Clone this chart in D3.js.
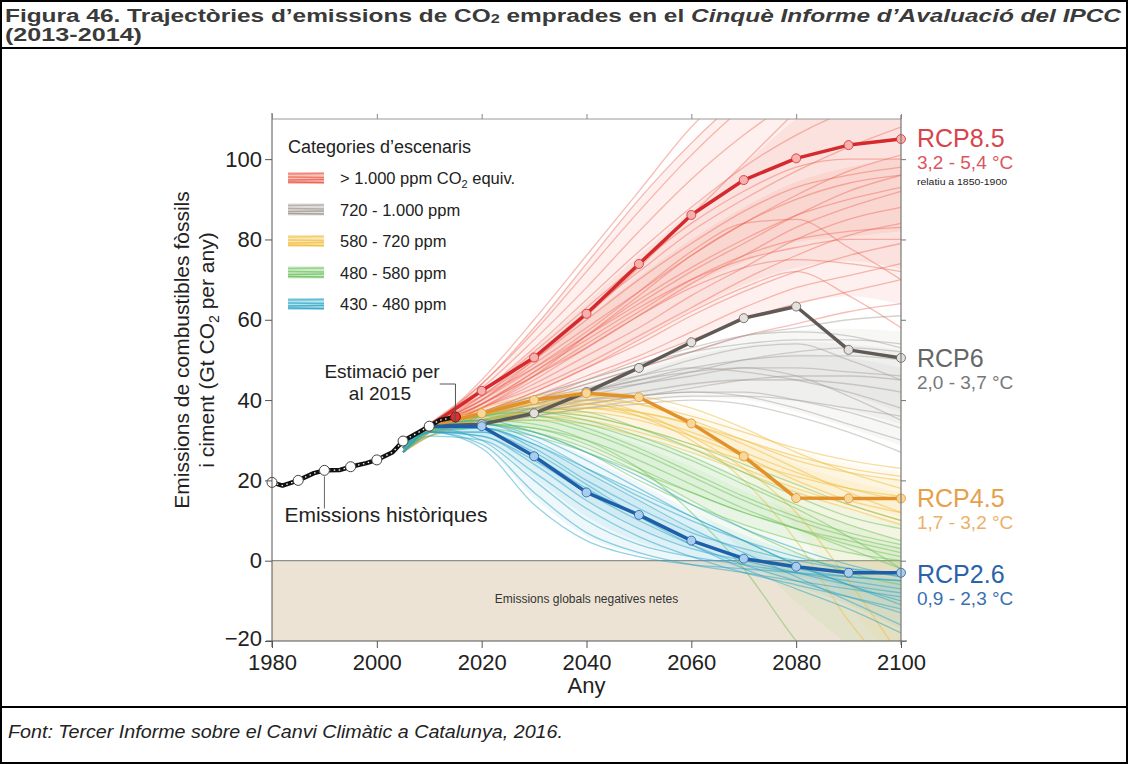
<!DOCTYPE html>
<html><head><meta charset="utf-8">
<script src="https://cdn.jsdelivr.net/npm/d3@7"></script>
<style>body{margin:0;background:#fff}svg{display:block}</style>
</head><body><svg id="c" width="1128" height="764"></svg>
<script>
// ---------- DATA ----------
const scenarioYears = [2005,2010,2020,2030,2040,2050,2060,2070,2080,2090,2100];
const redScenarios = [
 [28,33,45,60,76,92,108,120,130,138,145],
 [28,33,44,57,72,87,101,113,122,130,136],
 [29,34,43,55,68,82,95,106,115,122,128],
 [28,33,42,53,65,77,88,98,106,112,116],
 [27,32,41,51,62,72,82,90,97,103,108],
 [28,33,40,49,58,67,76,84,91,97,101],
 [29,34,41,48,56,64,72,79,86,92,96],
 [27,32,39,46,53,61,69,76,83,88,92],
 [28,33,38,44,51,58,66,73,80,85,88],
 [28,32,38,43,49,56,63,70,76,81,84],
 [27,32,37,42,48,54,61,67,72,76,79],
 [28,33,39,46,54,62,70,76,80,82,83],
 [28,33,40,48,57,67,77,84,85,78,70],
 [27,32,37,41,46,51,57,63,68,71,74],
 [28,33,36,40,45,50,55,60,64,67,70],
 [28,32,38,45,53,61,68,73,75,74,72],
 [27,31,36,40,44,48,52,56,59,62,64],
 [28,33,37,42,48,55,62,68,72,66,58],
 [29,34,42,52,63,74,84,92,98,100,100],
 [28,33,40,50,61,73,86,99,112,125,135],
 [27,32,38,46,56,66,76,84,90,94,96],
 [28,33,39,47,55,63,70,75,78,80,80],
 [29,34,44,58,74,90,104,116,126,134,140],
 [27,32,39,47,56,65,73,80,86,90,93],
 [28,33,41,50,60,70,79,87,93,96,98]
];
const grayScenarios = [
 [27,32,36,40,44,48,52,56,58,60,61],
 [28,33,37,41,45,49,52,54,55,55,54],
 [27,32,35,38,42,45,48,50,51,51,50],
 [28,33,36,39,42,44,46,48,48,47,46],
 [27,32,35,37,40,42,44,45,45,44,42],
 [28,33,37,40,43,46,48,47,45,42,38],
 [27,31,34,36,38,40,41,41,40,38,36],
 [28,32,35,37,39,41,42,42,40,37,33],
 [27,32,36,39,42,45,47,48,46,41,35],
 [28,33,36,38,40,41,42,41,38,34,30],
 [27,32,34,36,38,39,40,39,36,32,27],
 [28,33,37,41,45,49,53,56,57,56,53],
 [27,32,35,38,41,44,47,50,52,53,52],
 [28,33,36,39,42,46,50,53,54,50,45],
 [27,32,35,37,39,41,43,45,46,46,45]
];
const yellowScenarios = [
 [28,33,37,40,41,39,35,30,25,22,20],
 [27,32,36,38,38,36,32,27,22,18,15],
 [28,33,38,41,42,41,38,33,27,22,18],
 [27,32,35,37,37,35,31,26,20,15,12],
 [28,33,36,39,40,39,36,32,28,25,23],
 [27,32,35,36,35,32,28,23,18,14,10],
 [28,33,37,40,40,37,31,23,12,-5,-24],
 [27,32,36,39,39,36,30,20,5,-15,-30],
 [28,32,35,37,36,33,29,25,21,18,16],
 [27,31,34,35,34,31,27,22,17,13,9],
 [28,33,37,39,39,37,34,30,26,23,21],
 [27,32,35,37,38,37,34,29,23,17,12]
];
const greenScenarios = [
 [28,33,36,37,35,31,26,20,14,9,5],
 [27,32,35,35,32,27,21,15,10,6,3],
 [28,33,36,36,33,28,22,16,11,7,4],
 [27,32,34,33,29,23,17,12,8,5,2],
 [28,33,36,38,37,33,28,22,16,11,8],
 [27,32,34,32,27,20,14,9,5,2,0],
 [28,33,35,34,30,23,12,-2,-20,-35,-50],
 [27,32,35,36,34,30,25,19,13,6,-2],
 [28,32,34,33,30,25,19,13,8,3,-2],
 [27,31,33,31,27,22,17,12,8,4,1],
 [28,33,36,37,36,33,29,24,19,14,10],
 [27,32,34,32,28,22,15,8,2,-3,-6]
];
const blueScenarios = [
 [28,33,33,28,20,13,7,3,0,-2,-3],
 [27,32,32,26,18,11,5,1,-2,-4,-5],
 [28,33,34,30,23,16,10,5,1,-2,-4],
 [27,32,31,24,15,8,3,0,-3,-6,-8],
 [28,33,30,20,10,4,1,-1,-3,-5,-7],
 [27,32,29,17,7,2,-1,-3,-5,-7,-9],
 [28,33,33,29,22,15,8,2,-4,-10,-16],
 [27,32,32,27,19,11,4,-2,-7,-12,-18],
 [28,33,34,31,25,18,11,5,-1,-6,-11],
 [27,31,30,22,13,6,1,-3,-6,-9,-12],
 [28,33,35,32,27,21,14,8,3,-1,-4],
 [27,32,33,29,23,17,11,5,-1,-6,-10],
 [28,32,28,14,5,1,-1,-2,-3,-4,-5],
 [27,32,31,25,17,10,4,-1,-5,-9,-13]
];
const histYears  = [1980,1982,1985,1988,1990,1993,1995,1998,2000,2003,2005,2008,2010,2012,2015];
const histValues = [19.5,18.7,20.0,21.8,22.5,22.6,23.4,24.3,25.1,27.0,29.8,32.0,33.5,35.0,35.8];
const histMarkerYears  = [1980,1985,1990,1995,2000,2005,2010];
const histMarkerValues = [19.5,20.0,22.5,23.4,25.1,29.8,33.5];
const estimateYear = 2015, estimateValue = 35.8;
const rcpYears = [2010,2020,2030,2040,2050,2060,2070,2080,2090,2100];
const rcp85 = [33.5,42.3,50.6,61.5,73.9,86.1,94.8,100.2,103.5,105];
const rcp6  = [33.5,34.0,36.7,42.0,48.0,54.4,60.4,63.3,52.5,50.5];
const rcp45 = [33.5,36.7,40.0,41.7,40.7,34.2,26.0,15.6,15.5,15.5];
const rcp26 = [33.5,33.5,26.0,17.0,11.4,5.0,0.5,-1.5,-3.0,-3.0];
const xTicks = [1980,2000,2020,2040,2060,2080,2100];
const yTicks = [-20,0,20,40,60,80,100];
const legendLabels = ["> 1.000 ppm CO\u2082 equiv.","720 - 1.000 ppm","580 - 720 ppm","480 - 580 ppm","430 - 480 ppm"];
const rcpNames = ["RCP8.5","RCP6","RCP4.5","RCP2.6"];
const rcpRanges = ["3,2 - 5,4 \u00B0C","2,0 - 3,7 \u00B0C","1,7 - 3,2 \u00B0C","0,9 - 2,3 \u00B0C"];

// ---------- STYLE ----------
const svg = d3.select("#c");
const FONT = "'Liberation Sans', Arial, sans-serif";
const M = {left:272, right:901, top:119, bottom:641};
const x = d3.scaleLinear().domain([1980,2100]).range([M.left,M.right]);
const y = d3.scaleLinear().domain([-20,110]).range([M.bottom,M.top]);

// frame / title / footer
svg.append("rect").attr("x",1).attr("y",1).attr("width",1126).attr("height",762)
  .attr("fill","none").attr("stroke","#000").attr("stroke-width",2);
svg.append("line").attr("x1",0).attr("x2",1128).attr("y1",48).attr("y2",48).attr("stroke","#000").attr("stroke-width",2);
svg.append("line").attr("x1",0).attr("x2",1128).attr("y1",707).attr("y2",707).attr("stroke","#000").attr("stroke-width",2);
const t1 = svg.append("text").attr("x",5).attr("y",22).attr("font-family",FONT).attr("font-weight","bold")
  .attr("font-size",18).attr("fill","#3a3a3a").attr("textLength",1116).attr("lengthAdjust","spacingAndGlyphs");
t1.append("tspan").text("Figura 46. Trajectòries d\u2019emissions de CO");
t1.append("tspan").attr("font-size",12).attr("dy",1).text("2");
t1.append("tspan").attr("dy",-1).text(" emprades en el ");
t1.append("tspan").attr("font-style","italic").text("Cinquè Informe d\u2019Avaluació del IPCC");
svg.append("text").attr("x",5).attr("y",41).attr("font-family",FONT).attr("font-weight","bold")
  .attr("font-size",18).attr("fill","#3a3a3a").attr("textLength",137).attr("lengthAdjust","spacingAndGlyphs").text("(2013-2014)");
svg.append("text").attr("x",8).attr("y",738).attr("font-family",FONT).attr("font-style","italic")
  .attr("font-size",17.5).attr("fill","#222").attr("textLength",555).attr("lengthAdjust","spacingAndGlyphs")
  .text("Font: Tercer Informe sobre el Canvi Climàtic a Catalunya, 2016.");

// clip
svg.append("clipPath").attr("id","clip").append("rect")
  .attr("x",M.left).attr("y",M.top).attr("width",M.right-M.left).attr("height",M.bottom-M.top);
const plot = svg.append("g").attr("clip-path","url(#clip)");

// negative region
plot.append("rect").attr("x",M.left).attr("width",M.right-M.left)
  .attr("y",y(0)).attr("height",y(-20)-y(0)).attr("fill","#ece3d4");
plot.append("line").attr("x1",M.left).attr("x2",M.right).attr("y1",y(0)).attr("y2",y(0)).attr("stroke","#777").attr("stroke-width",1);
plot.append("text").attr("x",(M.left+M.right)/2).attr("y",y(-10.5)).attr("text-anchor","middle")
  .attr("font-family",FONT).attr("font-size",12).attr("fill","#333").text("Emissions globals negatives netes");

// scenario fans
const cats = [
  {data:redScenarios, line:"#ee5a48", fill:"#f06a58", fo:0.1, lo:0.4},
  {data:grayScenarios, line:"#a29b95", fill:"#b5aea8", fo:0.1, lo:0.45},
  {data:yellowScenarios, line:"#f2bd3c", fill:"#f5cd6a", fo:0.11, lo:0.5},
  {data:greenScenarios, line:"#70c460", fill:"#8fd27f", fo:0.11, lo:0.5},
  {data:blueScenarios, line:"#2ba6c8", fill:"#5cbcd8", fo:0.1, lo:0.5}
];
const lineGen = d3.line().x((d,i)=>x(scenarioYears[i])).y(d=>y(d)).curve(d3.curveMonotoneX);
const areaGen = d3.area().x((d,i)=>x(scenarioYears[i])).y0(d=>y(d[0])).y1(d=>y(d[1])).curve(d3.curveMonotoneX);
const bands = [[0.04,0.96],[0.18,0.82],[0.32,0.68]];
cats.forEach(c=>{
  bands.forEach(b=>{
    const env = scenarioYears.map((yr,i)=>{
      const vals = c.data.map(s=>s[i]).sort(d3.ascending);
      return [d3.quantile(vals,b[0]), d3.quantile(vals,b[1])];
    });
    plot.append("path").attr("d",areaGen(env)).attr("fill",c.fill).attr("opacity",c.fo);
  });
});
cats.forEach(c=>{
  plot.append("g").selectAll("path").data(c.data).join("path")
    .attr("d",lineGen).attr("fill","none").attr("stroke",c.line)
    .attr("stroke-width",1.3).attr("stroke-opacity",c.lo);
});

// RCP lines
const rcps = [
  {v:rcp85, c:"#d42a2e", m:"#f6b0ad"},
  {v:rcp6, c:"#5f5a56", m:"#e4e0dc"},
  {v:rcp45, c:"#e3922a", m:"#f7d79a"},
  {v:rcp26, c:"#1f5ea8", m:"#a9cdec"}
];
const rl = d3.line().x((d,i)=>x(rcpYears[i])).y(d=>y(d));
rcps.forEach(r=>{
  svg.append("path").attr("d",rl(r.v)).attr("fill","none").attr("stroke",r.c).attr("stroke-width",3.5).attr("stroke-linejoin","round");
});
rcps.forEach(r=>{
  svg.append("g").selectAll("circle").data(r.v.slice(1)).join("circle")
    .attr("cx",(d,i)=>x(rcpYears[i+1])).attr("cy",d=>y(d)).attr("r",4.5)
    .attr("fill",r.m).attr("stroke",r.c).attr("stroke-width",0.8);
});

// historical
const hl = d3.line().x((d,i)=>x(histYears[i])).y(d=>y(d));
svg.append("path").attr("d",hl(histValues)).attr("fill","none").attr("stroke","#111").attr("stroke-width",4.5).attr("stroke-linejoin","round");
svg.append("path").attr("d",hl(histValues)).attr("fill","none").attr("stroke","#fff").attr("stroke-width",1.3).attr("stroke-dasharray","1.5,3.5");
svg.append("g").selectAll("circle").data(histMarkerValues).join("circle")
  .attr("cx",(d,i)=>x(histMarkerYears[i])).attr("cy",d=>y(d)).attr("r",5)
  .attr("fill","#fff").attr("stroke","#444").attr("stroke-width",1);
svg.append("circle").attr("cx",x(estimateYear)).attr("cy",y(estimateValue)).attr("r",5)
  .attr("fill","#d63030").attr("stroke","#7a1010").attr("stroke-width",1);

// axes frame
const ax = svg.append("g").attr("stroke-width",1.2).attr("fill","none");
ax.append("line").attr("x1",M.left).attr("x2",M.right).attr("y1",M.top).attr("y2",M.top).attr("stroke","#999");
ax.append("line").attr("x1",M.right).attr("x2",M.right).attr("y1",M.top-4).attr("y2",M.bottom+4).attr("stroke","#777");
const yAxis = svg.append("g").attr("transform",`translate(${M.left},0)`)
  .call(d3.axisLeft(y).tickValues(yTicks).tickSize(7).tickSizeOuter(0).tickFormat(d=>d<0?"\u2212"+Math.abs(d):d));
yAxis.select(".domain").attr("d",`M0,${M.top-6}V${M.bottom+6}`).attr("stroke","#555");
yAxis.selectAll(".tick line").attr("stroke","#555");
yAxis.selectAll(".tick text").attr("font-family",FONT).attr("font-size",22).attr("fill","#222").attr("x",-10);
yAxis.selectAll(".tick text").filter(d=>d===-20).attr("dy","0.2em");
const xAxis = svg.append("g").attr("transform",`translate(0,${M.bottom})`)
  .call(d3.axisBottom(x).tickValues(xTicks).tickSize(7).tickSizeOuter(0).tickFormat(d3.format("d")));
xAxis.select(".domain").attr("d",`M${M.left-6},0H${M.right+6}`).attr("stroke","#555");
xAxis.selectAll(".tick line").attr("stroke","#555");
xAxis.selectAll(".tick text").attr("font-family",FONT).attr("font-size",22).attr("fill","#222").attr("y",13);
svg.append("g").call(g=>g.attr("transform",`translate(0,${M.top})`)
  .call(d3.axisTop(x).tickValues(xTicks).tickSize(5).tickFormat("")))
  .call(g=>{g.select(".domain").remove(); g.selectAll("line").attr("stroke","#888");});
svg.append("g").attr("transform",`translate(${M.right},0)`)
  .call(d3.axisRight(y).tickValues(yTicks).tickSize(5).tickFormat(""))
  .call(g=>{g.select(".domain").remove(); g.selectAll("line").attr("stroke","#777");});

// axis titles
svg.append("text").attr("x",(M.left+M.right)/2).attr("y",693).attr("text-anchor","middle")
  .attr("font-family",FONT).attr("font-size",22).attr("fill","#222").text("Any");
const yt = svg.append("text").attr("transform","translate(189,350) rotate(-90)").attr("text-anchor","middle")
  .attr("font-family",FONT).attr("font-size",21).attr("fill","#222");
yt.append("tspan").attr("x",0).attr("y",0).text("Emissions de combustibles fòssils");
yt.append("tspan").attr("x",0).attr("y",25).text("i ciment (Gt CO");
yt.append("tspan").attr("font-size",14).attr("dy",5).text("2");
yt.append("tspan").attr("dy",-5).text(" per any)");

// legend
const lg = svg.append("g").attr("font-family",FONT);
lg.append("text").attr("x",288).attr("y",153).attr("font-size",18).attr("fill","#222").text("Categories d\u2019escenaris");
const legendColors = ["#ee5a48","#a29b95","#f2bd3c","#70c460","#2ba6c8"];
legendLabels.forEach((lab,i)=>{
  const cy = 178 + i*31.5;
  const g = lg.append("g");
  g.append("rect").attr("x",288).attr("y",cy-6).attr("width",36).attr("height",12).attr("fill",legendColors[i]).attr("opacity",0.35);
  [-4,-1,2,4].forEach((o,k)=>g.append("line").attr("x1",288).attr("x2",324).attr("y1",cy+o).attr("y2",cy+o+(k%2?0.6:-0.6))
    .attr("stroke",legendColors[i]).attr("stroke-width",1.5).attr("opacity",0.6+0.1*k));
  const t = g.append("text").attr("x",340).attr("y",cy+6).attr("font-size",16.5).attr("fill","#222");
  if(i===0){
    t.append("tspan").text("> 1.000 ppm CO");
    t.append("tspan").attr("font-size",11).attr("dy",4).text("2");
    t.append("tspan").attr("dy",-4).text(" equiv.");
  } else t.text(lab);
});

// RCP labels
const rcpLabelY = [147,367,507,583];
const rcpColors = ["#d8434d","#666","#e6a04a","#2b63a8"];
const rcpSubColors = ["#dd5560","#777","#ecb068","#3a6fb0"];
rcpNames.forEach((n,i)=>{
  svg.append("text").attr("x",917).attr("y",rcpLabelY[i]).attr("font-family",FONT).attr("font-size",25).attr("fill",rcpColors[i]).text(n);
  svg.append("text").attr("x",917).attr("y",rcpLabelY[i]+22).attr("font-family",FONT).attr("font-size",19).attr("fill",rcpSubColors[i]).text(rcpRanges[i]);
});
svg.append("text").attr("x",917).attr("y",185).attr("font-family",FONT).attr("font-size",9.5).attr("fill","#222")
  .attr("textLength",90).attr("lengthAdjust","spacingAndGlyphs").text("relatiu a 1850-1900");

// annotations
svg.append("path").attr("d",`M${x(1990)},${y(22.5)+6}V${y(13)}`).attr("stroke","#666").attr("fill","none");
svg.append("text").attr("x",386).attr("y",522).attr("text-anchor","middle").attr("font-family",FONT)
  .attr("font-size",21).attr("fill","#222").text("Emissions històriques");
svg.append("path").attr("d",`M${x(2012)},${y(44)}H${x(2015)}V${y(estimateValue)+6}`).attr("stroke","#555").attr("fill","none");
const et = svg.append("text").attr("text-anchor","middle").attr("font-family",FONT).attr("font-size",19).attr("fill","#222");
et.append("tspan").attr("x",382).attr("y",378).text("Estimació per");
et.append("tspan").attr("x",380).attr("y",400).text("al 2015");
</script></body></html>
